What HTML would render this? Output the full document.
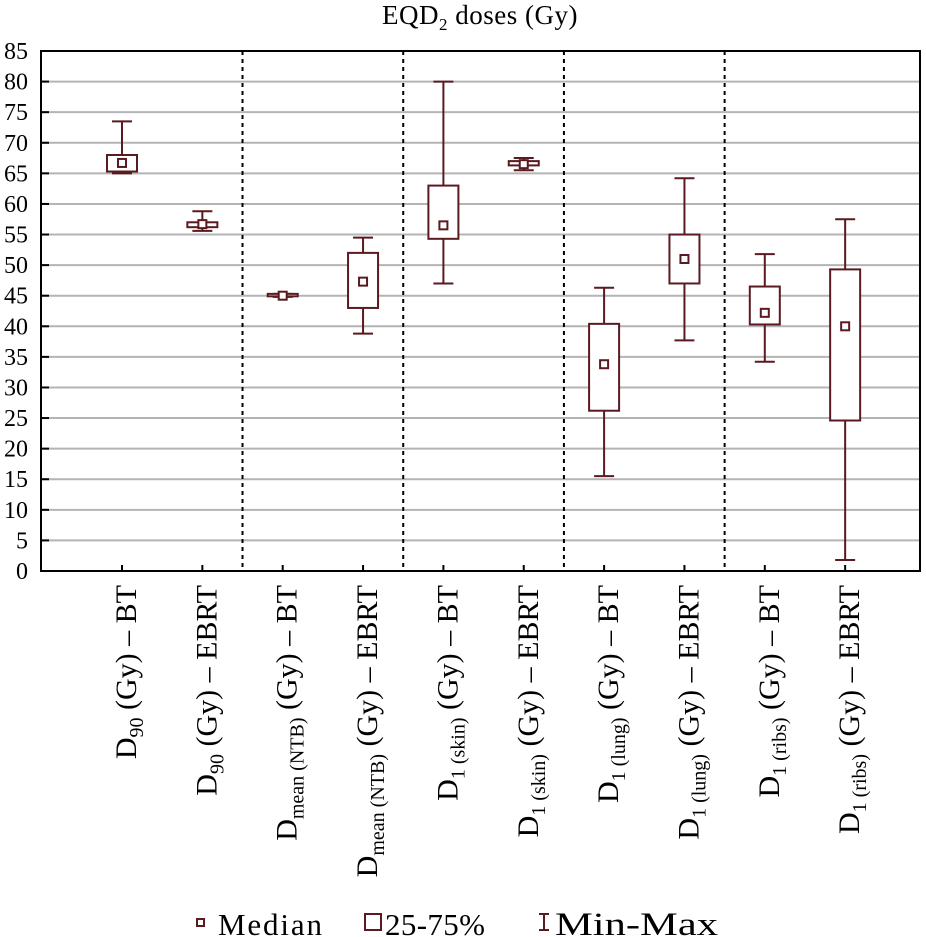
<!DOCTYPE html>
<html><head><meta charset="utf-8"><style>
html,body{margin:0;padding:0;background:#fff;}
svg{display:block;font-family:"Liberation Serif",serif;}
</style></head><body>
<svg id="chart" width="926" height="937" viewBox="0 0 926 937">
<text x="480" y="24" font-size="27" text-anchor="middle" letter-spacing="0.5">EQD<tspan font-size="17" dy="6">2</tspan><tspan dy="-6"> doses (Gy)</tspan></text>
<g id="grid"></g>
<g id="yticks"></g>
<g id="boxes"></g>
<g id="xlabels"></g>
<g>
<rect x="197" y="919" width="7" height="7" fill="none" stroke="#5a1a1f" stroke-width="2"/>
<text x="218" y="935" font-size="31" textLength="104" lengthAdjust="spacing">Median</text>
<rect x="365" y="914" width="16" height="16" fill="none" stroke="#5a1a1f" stroke-width="2"/>
<text x="385" y="935" font-size="31" textLength="100" lengthAdjust="spacing">25-75%</text>
<path d="M539 914h10M544 914v16M539 930h10" stroke="#5a1a1f" stroke-width="2" fill="none"/>
<text x="555" y="935" font-size="33" textLength="163" lengthAdjust="spacingAndGlyphs">Min-Max</text>
</g>
</svg>
<script>
const categories = [
 ["D","90","(Gy) – BT"],["D","90","(Gy) – EBRT"],
 ["D","mean (NTB)","(Gy) – BT"],["D","mean (NTB)","(Gy) – EBRT"],
 ["D","1 (skin)","(Gy) – BT"],["D","1 (skin)","(Gy) – EBRT"],
 ["D","1 (lung)","(Gy) – BT"],["D","1 (lung)","(Gy) – EBRT"],
 ["D","1 (ribs)","(Gy) – BT"],["D","1 (ribs)","(Gy) – EBRT"]
];
const minVals = [65, 55.6, 44.8, 38.8, 47, 65.5, 15.5, 37.7, 34.2, 1.8];
const q1Vals  = [65.3, 56.2, 44.9, 43, 54.3, 66.3, 26.2, 47, 40.3, 24.6];
const medVals = [66.7, 56.7, 45, 47.3, 56.5, 66.5, 33.8, 51, 42.2, 40];
const q3Vals  = [68, 57, 45.3, 52, 63, 67, 40.4, 55, 46.5, 49.3];
const maxVals = [73.5, 58.8, 45.3, 54.5, 80, 67.5, 46.3, 64.2, 51.8, 57.5];
const yTicks = [0,5,10,15,20,25,30,35,40,45,50,55,60,65,70,75,80,85];
const groupSeparators = [1.5, 3.5, 5.5, 7.5];

const NS="http://www.w3.org/2000/svg";
const L=41,R=920,T=51,B=571,COL="#5a1a1f";
const y=v=>B-(v/85)*(B-T);
const x=i=>122+i*80.35;
function mk(tag,attrs,parent){const e=document.createElementNS(NS,tag);for(const k in attrs)e.setAttribute(k,attrs[k]);parent.appendChild(e);return e;}
const grid=document.getElementById('grid'),yt=document.getElementById('yticks'),bx=document.getElementById('boxes'),xl=document.getElementById('xlabels');
yTicks.forEach(t=>{
  if(t>0&&t<85){const g=mk('line',{x1:L,x2:R,y1:y(t),y2:y(t),stroke:'#b4b4b4','stroke-width':2},grid);
  
  }
  const tk=mk('line',{x1:L,x2:L+8,y1:y(t),y2:y(t),stroke:'#000','stroke-width':2},yt);
  
  
  const lb=mk('text',{x:28,y:y(t)+8,'font-size':24,'text-anchor':'end'},yt);lb.textContent=t;
  
  
});
groupSeparators.forEach((s,k)=>{
  const sx=(x(Math.floor(s))+x(Math.ceil(s)))/2;
  const d=mk('line',{x1:sx,x2:sx,y1:T,y2:B,stroke:'#000','stroke-width':2,'stroke-dasharray':'4,4'},grid);
  
  
});
const frame=mk('rect',{x:L,y:T,width:R-L,height:B-T,fill:'none',stroke:'#000','stroke-width':2},grid);


categories.forEach((c,i)=>{
  const cx=x(i);
  const tk=mk('line',{x1:cx,x2:cx,y1:B,y2:B-6,stroke:'#000','stroke-width':2},grid);
  
  
  const g=mk('g',{},bx);
  
  
  mk('path',{d:`M${cx-10} ${y(maxVals[i])}h20M${cx} ${y(maxVals[i])}V${y(q3Vals[i])}M${cx} ${y(q1Vals[i])}V${y(minVals[i])}M${cx-10} ${y(minVals[i])}h20`,stroke:COL,'stroke-width':2,fill:'none'},g);
  mk('rect',{x:cx-15,y:y(q3Vals[i]),width:30,height:Math.max(1,y(q1Vals[i])-y(q3Vals[i])),fill:'#fff',stroke:COL,'stroke-width':2},g);
  mk('rect',{x:cx-4,y:y(medVals[i])-4,width:8,height:8,fill:'#fff',stroke:COL,'stroke-width':2},g);
  const t=mk('text',{transform:`translate(${cx+14},585) rotate(-90)`,'font-size':30,'text-anchor':'end'},xl);
  
  
  const a=mk('tspan',{},t);a.textContent=c[0];
  const b=mk('tspan',{'font-size':20,dy:7},t);b.textContent=c[1];
  const d=mk('tspan',{dy:-7},t);d.textContent=' '+c[2];
});
</script>
</body></html>
